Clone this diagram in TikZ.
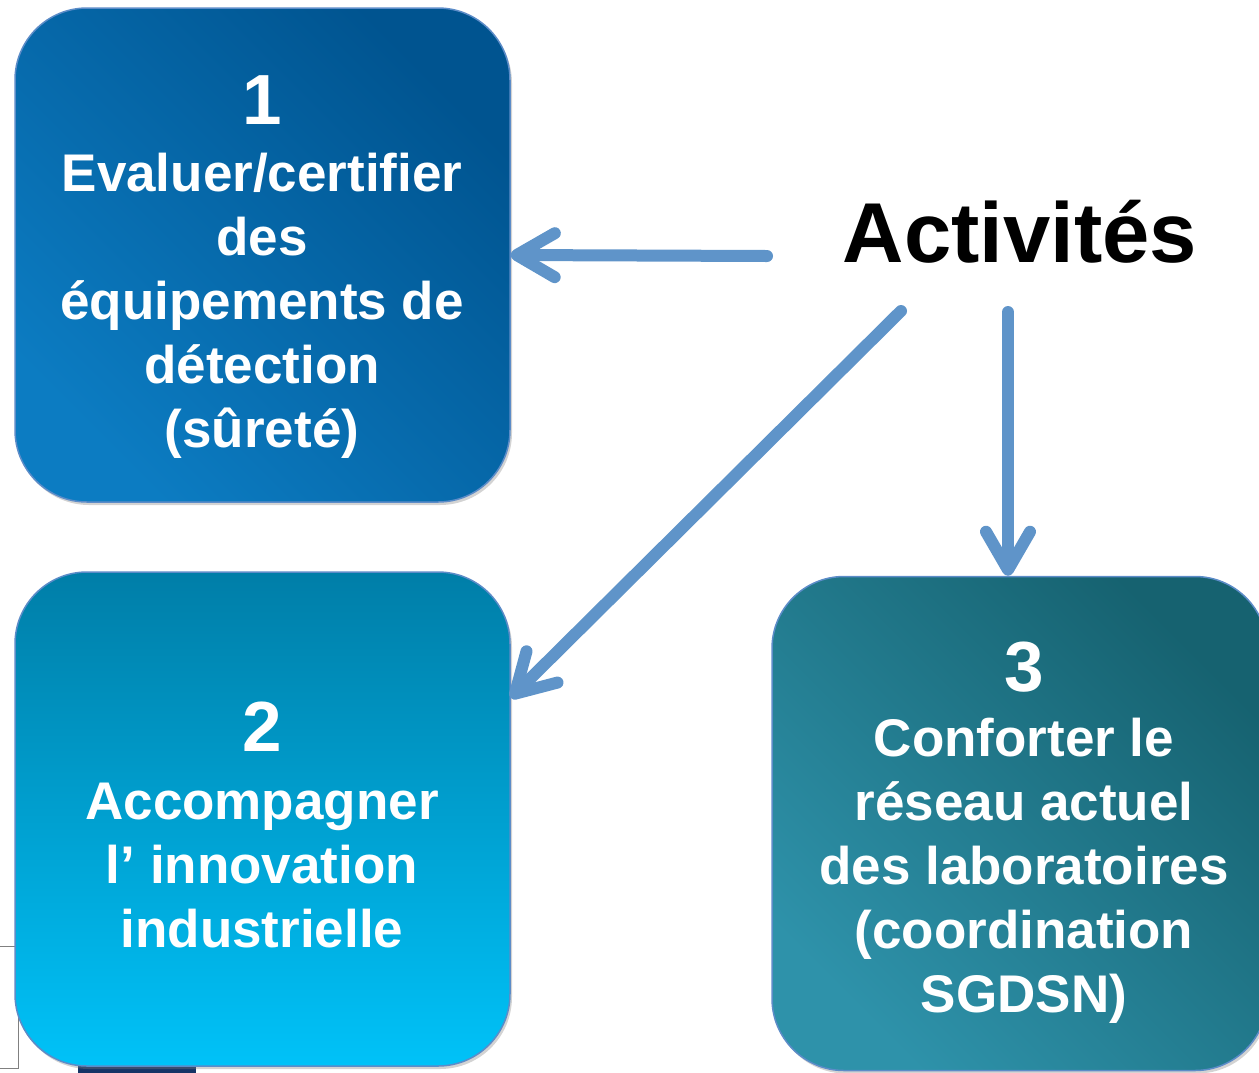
\documentclass[tikz,border=0pt]{standalone}
\usepackage{fontspec}
\setmainfont{Liberation Sans}
\usetikzlibrary{positioning,shadows,arrows.meta}
\definecolor{arrowblue}{RGB}{95,148,201}
\definecolor{edgeblue}{RGB}{92,140,200}
\definecolor{boxonedark}{RGB}{0,84,144}
\definecolor{boxonelight}{RGB}{12,124,194}
\definecolor{boxtwotop}{RGB}{0,126,168}
\definecolor{boxtwobottom}{RGB}{0,194,248}
\definecolor{boxthreedark}{RGB}{22,98,112}
\definecolor{boxthreelight}{RGB}{46,146,170}
\definecolor{navybar}{RGB}{22,52,102}
\newcommand\boxnum[1]{{\fontsize{71}{71}\selectfont #1}}
\begin{document}
\begin{tikzpicture}[x=1pt,y=-1pt,
    box/.style={draw=edgeblue,line width=1.5pt,rounded corners=72pt,
      minimum width=495pt,minimum height=494pt,inner sep=0pt,
      drop shadow={opacity=0.35,shadow xshift=2pt,shadow yshift=-3pt}},
    txt/.style={anchor=north,inner sep=0pt,align=center,text=white,
      font=\bfseries\fontsize{53}{64}\selectfont},
    arr/.style={arrowblue,line width=12pt,line cap=round,
      -{Straight Barb[round,length=38pt,width=44pt]},
      preaction={draw=black!22,transform canvas={shift={(2pt,-2.5pt)}}}}]
  \useasboundingbox (0,0) rectangle (1259,1072);
  \clip (0,0) rectangle (1259,1072);
  % leftovers at the bottom left
  \draw[gray,thin] (-2,946) -- (18,946) -- (18,1068) -- (-2,1068);
  \fill[navybar] (78,1066) rectangle (196,1076);
  % the three boxes
  \node[box,top color=boxonedark,bottom color=boxonelight,shading angle=-45]
    (b1) at (262.5,255) {};
  \node[box,top color=boxtwotop,bottom color=boxtwobottom]
    (b2) at (262.5,819) {};
  \node[box,top color=boxthreedark,bottom color=boxthreelight,shading angle=-45]
    (b3) at (1019.5,823.5) {};
  \node[txt] (t1) at (262,75) {\boxnum{1}\\[3pt] Evaluer/certifier\\ des\\
    équipements de\\ détection\\ (sûreté)};
  \node[txt] (t2) at (262,702) {\boxnum{2}\\[4pt] Accompagner\\
    l’ innovation\\ industrielle};
  \node[txt] (t3) at (1024,642) {\boxnum{3}\\[1pt] Conforter le\\
    réseau actuel\\ des laboratoires\\ (coordination\\ SGDSN)};
  % title and arrows
  \node[anchor=base,inner sep=0pt,font=\bfseries\fontsize{85}{85}\selectfont]
    (act) at (1020,262) {Activités};
  \coordinate (s1) at (767,256);
  \coordinate (s2) at (901,311);
  \coordinate (s3) at (1008,312);
  \draw[arr] (s1) -- (b1.east);
  \draw[arr] (s2) -- (b2.26);
  \draw[arr] (s3) -- (s3 |- b3.north);
\end{tikzpicture}
\end{document}
